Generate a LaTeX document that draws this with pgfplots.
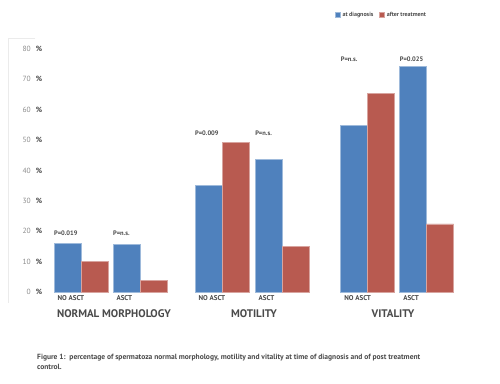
\documentclass[border=0pt]{standalone}
\usepackage{pgfplots}
\pgfplotsset{compat=1.18}
\usepackage{fontspec}
\setmainfont{PT Sans}
\definecolor{barblue}{HTML}{4F81BD}
\definecolor{barred}{HTML}{B85A50}
\definecolor{txt}{HTML}{4A4A4A}
\definecolor{tickc}{HTML}{8C8C8C}
\begin{document}
\begin{tikzpicture}
\useasboundingbox (0,0) rectangle (500pt,383pt);
\fill[white] (0,0) rectangle (500pt,383pt);
\draw[black!8, line width=0.6pt] (35pt,345pt) -- (8pt,345pt) -- (8pt,80pt);
\begin{axis}[
  at={(45.6pt,91pt)}, anchor=south west,
  x=59pt, y=3.0375pt,
  xmin=-0.6, xmax=6.6, ymin=0, ymax=80,
  axis line style={draw=none}, tick style={draw=none},
  clip=false,
  ytick={0,10,...,80},
  /pgf/number format/assume math mode=true,
  yticklabel={\textcolor{tickc}{\pgfmathprintnumber{\tick}}\hspace{5pt}\textcolor{txt}{\bfseries\%}},
  yticklabel style={font=\fontsize{7.5}{8}\selectfont, xshift=0pt},
  xtick={0,1,2.39,3.41,4.86,5.86},
  xticklabels={NO ASCT, ASCT, NO ASCT, ASCT, NO ASCT, ASCT},
  xticklabel style={anchor=north west, xshift=-27pt, font=\bfseries\fontsize{7}{8}\selectfont, text=txt},
  legend style={at={(0.674,1.17)}, anchor=north west, draw=none, fill=none,
    legend columns=2, font=\bfseries\fontsize{6}{7}\selectfont, text=txt,
    /tikz/every even column/.append style={column sep=4pt}},
  legend image code/.code={\fill[#1] (0pt,-2.5pt) rectangle (5pt,2.5pt);},
]
\addplot[ybar, bar width=27pt, bar shift=-13.5pt, fill=barblue, draw=barblue!55!white, line width=0.5pt]
  coordinates {(0,16.1) (1,15.8) (2.39,35.2) (3.41,43.7) (4.86,54.9) (5.86,74.3)};
\addplot[ybar, bar width=27pt, bar shift=13.5pt, fill=barred, draw=barred!55!white, line width=0.5pt]
  coordinates {(0,10.2) (1,3.9) (2.39,49.3) (3.41,15.1) (4.86,65.5) (5.86,22.4)};
\legend{at diagnosis, after treatment}
\begin{scope}[every node/.style={anchor=west, inner sep=0pt, text=txt, font=\bfseries\fontsize{6.5}{7}\selectfont}]
\node at (axis cs:-0.46,19.4) {P=0.019};
\node at (axis cs:0.54,19.4) {P=n.s.};
\node at (axis cs:1.93,52.3) {P=0.009};
\node at (axis cs:2.95,52.3) {P=n.s.};
\node at (axis cs:4.40,76.6) {P=n.s.};
\node at (axis cs:5.40,76.6) {P=0.025};
\end{scope}
\end{axis}
\begin{scope}[every node/.style={inner sep=0pt, text=txt, font=\bfseries\fontsize{11}{12}\selectfont}]
\node at (114pt,69pt) {NORMAL MORPHOLOGY};
\node at (254pt,69pt) {MOTILITY};
\node at (393pt,69pt) {VITALITY};
\end{scope}
\begin{scope}[every node/.style={anchor=base west, inner sep=0pt, text=txt, font=\bfseries\fontsize{7.5}{8}\selectfont}]
\node at (37pt,24pt) {Figure 1:\ \ percentage of spermatoza normal morphology, motility and vitality at time of diagnosis and of post treatment};
\node at (37pt,14pt) {control.};
\end{scope}
\end{tikzpicture}
\end{document}
